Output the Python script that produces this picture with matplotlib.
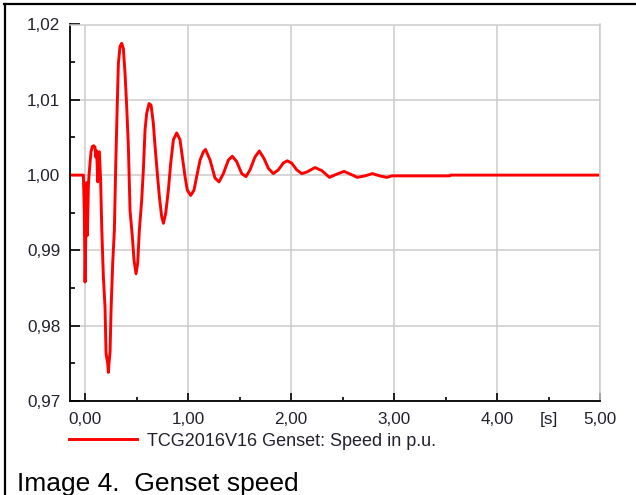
import matplotlib
matplotlib.use("Agg")
import matplotlib.pyplot as plt
from matplotlib.lines import Line2D

# ============================
# 1. Data
# ============================
time_s = [
    -0.146, -0.016, -0.007, 0.000, 0.0162, 0.0227, 0.0324, 0.0388, 0.0485, 0.0583,
    0.0712, 0.0841, 0.0971, 0.1036, 0.1133, 0.123, 0.1392, 0.152, 0.162, 0.178,
    0.194, 0.204, 0.220, 0.2265, 0.234, 0.243, 0.2524, 0.2686, 0.2848, 0.2977,
    0.3107, 0.3236, 0.3398, 0.356, 0.3722, 0.3883, 0.4045, 0.4207, 0.4369, 0.4595,
    0.4757, 0.4951, 0.5113, 0.5275, 0.5502, 0.5663, 0.5825, 0.5987, 0.6214, 0.6408,
    0.663, 0.680, 0.702, 0.722, 0.744, 0.761, 0.783, 0.809, 0.832, 0.858,
    0.890, 0.922, 0.945, 0.971, 0.993, 1.026, 1.058, 1.084, 1.117, 1.149,
    1.170, 1.214, 1.262, 1.301, 1.343, 1.392, 1.430, 1.472, 1.521, 1.563,
    1.602, 1.650, 1.692, 1.738, 1.780, 1.828, 1.877, 1.925, 1.964, 2.006,
    2.055, 2.104, 2.152, 2.233, 2.298, 2.340, 2.372, 2.44, 2.515, 2.58,
    2.644, 2.72, 2.79, 2.86, 2.93, 2.98, 3.54, 3.55, 5.00,
]
speed_pu = [
    1.0000, 1.0000, 0.9950, 0.9858, 0.9990, 0.9920, 0.9985, 1.0000, 1.0016, 1.0031,
    1.0038, 1.0039, 1.0037, 1.0024, 1.0032, 0.9991, 1.0031, 0.9991, 0.9931, 0.9865,
    0.9825, 0.9763, 0.9750, 0.9738, 0.9752, 0.9765, 0.9820, 0.9883, 0.9927, 1.0011,
    1.0082, 1.0148, 1.0171, 1.0175, 1.0168, 1.0135, 1.0091, 1.0038, 0.9953, 0.9918,
    0.9887, 0.9869, 0.9883, 0.9927, 0.9967, 1.0007, 1.0060, 1.0082, 1.0095, 1.0093,
    1.0069, 1.0038, 1.0002, 0.9971, 0.9945, 0.9936, 0.9949, 0.9980, 1.0016, 1.0047,
    1.0056, 1.0047, 1.0024, 0.9998, 0.9980, 0.9973, 0.9980, 0.9998, 1.0020, 1.0031,
    1.0034, 1.0020, 0.9996, 0.9991, 1.0002, 1.0020, 1.0025, 1.0018, 1.0002, 0.9998,
    1.0007, 1.0024, 1.0032, 1.0022, 1.0009, 1.0002, 1.0007, 1.0016, 1.0019, 1.0016,
    1.0007, 1.0002, 1.0004, 1.0010, 1.0006, 1.0001, 0.9997, 1.0001, 1.0005, 1.0001,
    0.9997, 0.9999, 1.0002, 0.9999, 0.9997, 0.9999, 0.9999, 1.0000, 1.0000,
]

x_major = [0, 1, 2, 3, 4, 5]
x_major_labels = ["0,00", "1,00", "2,00", "3,00", "4,00", "5,00"]
x_minor = [0.5, 1.5, 2.5, 3.5, 4.5]
x_minor_labels = ["", "", "", "", "[s]"]
y_major = [0.97, 0.98, 0.99, 1.00, 1.01, 1.02]
y_major_labels = ["0,97", "0,98", "0,99", "1,00", "1,01", "1,02"]
y_minor = [0.975, 0.985, 0.995, 1.005, 1.015]

series_label = "TCG2016V16 Genset: Speed in p.u."
caption = "Image 4.  Genset speed"

# ============================
# 2. Figure and axes
# ============================
plt.rcParams["font.family"] = ["Liberation Sans", "DejaVu Sans"]
W, H = 636, 495
fig = plt.figure(figsize=(W / 100, H / 100), dpi=100)
ax = fig.add_axes([70 / W, 1 - 401 / H, 530 / W, 376.5 / H])

line, = ax.plot(time_s, speed_pu, color="#ff0000", lw=2.1, label=series_label)

ax.set_xlim(-0.146, 5.0)
ax.set_ylim(0.97, 1.02)

ax.set_xticks(x_major)
ax.set_xticklabels(x_major_labels)
ax.set_xticks(x_minor, minor=True)
ax.set_xticklabels(x_minor_labels, minor=True)
ax.set_yticks(y_major)
ax.set_yticklabels(y_major_labels)
ax.set_yticks(y_minor, minor=True)

label_color = "#22222e"
ax.tick_params(axis="both", which="both", direction="in", width=1.2, color="black",
               labelsize=12.3, labelcolor=label_color)
ax.tick_params(axis="x", which="major", length=6, pad=8)
ax.tick_params(axis="x", which="minor", length=3, pad=8)
ax.tick_params(axis="y", which="major", length=7.5, pad=7)
ax.tick_params(axis="y", which="minor", length=3.5, pad=7)

ax.grid(True, which="major", color="#cccccc", lw=1.1)
ax.set_axisbelow(True)

for side in ["left", "bottom"]:
    ax.spines[side].set_color("black")
    ax.spines[side].set_linewidth(1.3)
for side in ["top", "right"]:
    ax.spines[side].set_color("#cccccc")
    ax.spines[side].set_linewidth(1.1)

# ============================
# 3. Legend, caption, frame
# ============================
fig.legend(handles=[line], loc="center left", bbox_to_anchor=(69 / W, 1 - 441 / H),
           frameon=False, borderpad=0, borderaxespad=0, handlelength=3.75,
           handletextpad=0.55, fontsize=13, labelcolor=label_color)

fig.text(17 / W, 1 - 490.5 / H, caption, fontsize=19, va="baseline", ha="left",
         color="black")

fig.add_artist(Line2D([4 / W, 1], [1 - 4 / H, 1 - 4 / H], color="black", lw=1.6,
                      transform=fig.transFigure))
fig.add_artist(Line2D([5 / W, 5 / W], [0, 1 - 4 / H], color="black", lw=1.6,
                      transform=fig.transFigure))

fig.savefig("out.png", dpi=100)
plt.close(fig)
